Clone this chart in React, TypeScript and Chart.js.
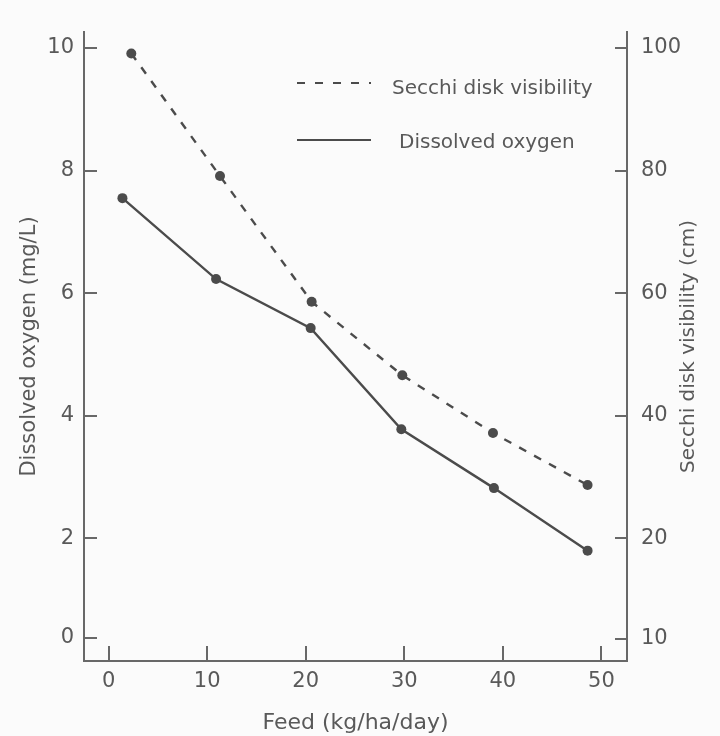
import React, { useEffect, useRef } from "react";
import { Chart, registerables } from "chart.js";

Chart.register(...registerables);

// ---- data ----
const feedSecchi = [2.3, 11.3, 20.6, 29.8, 39.0, 48.6];
const secchiValues = [99.1, 79.1, 58.6, 46.6, 37.2, 28.7];
const feedOxygen = [1.4, 10.9, 20.5, 29.7, 39.1, 48.6];
const oxygenValues = [7.55, 6.23, 5.43, 3.78, 2.82, 1.8];

const xTickValues = [0, 10, 20, 30, 40, 50];
// the bottom tick of both value axes sits on a broken segment in the original
const leftTickValues = [0.38, 2, 4, 6, 8, 10];
const leftTickLabels = ["0", "2", "4", "6", "8", "10"];
const rightTickValues = [3.6, 20, 40, 60, 80, 100];
const rightTickLabels = ["10", "20", "40", "60", "80", "100"];

const seriesNames = ["Secchi disk visibility", "Dissolved oxygen"];
const xTitle = "Feed (kg/ha/day)";
const leftTitle = "Dissolved oxygen (mg/L)";
const rightTitle = "Secchi disk visibility (cm)";

const FONT = "'DejaVu Sans', Verdana, sans-serif";
const TEXT = "#595959";
const AXIS = "#686868";
const LINE = "#4b4b4b";

const bgPlugin = {
  id: "bg",
  beforeDraw(chart: any) {
    const { ctx, width, height } = chart;
    ctx.save();
    ctx.fillStyle = "#fbfbfb";
    ctx.fillRect(0, 0, width, height);
    ctx.restore();
  },
};

const extrasPlugin = {
  id: "extras",
  afterDraw(chart: any) {
    const { ctx, chartArea } = chart;
    const x0 = chartArea.left + 213;
    const rows = [
      { y: chartArea.top + 51, dash: [8, 10], textX: 95, textDy: 6, name: seriesNames[0] },
      { y: chartArea.top + 108, dash: [], textX: 102, textDy: 3, name: seriesNames[1] },
    ];
    ctx.save();
    rows.forEach((r) => {
      ctx.beginPath();
      ctx.setLineDash(r.dash);
      ctx.strokeStyle = LINE;
      ctx.lineWidth = 2;
      ctx.moveTo(x0, r.y);
      ctx.lineTo(x0 + 74, r.y);
      ctx.stroke();
      ctx.setLineDash([]);
      ctx.fillStyle = TEXT;
      ctx.font = `20px ${FONT}`;
      ctx.textBaseline = "middle";
      ctx.textAlign = "left";
      ctx.fillText(r.name, x0 + r.textX, r.y + r.textDy);
    });
    // right axis title, reading bottom-to-top as in the original
    const y2 = chart.scales.y2;
    ctx.translate(y2.right - 31, (chartArea.top + chartArea.bottom) / 2);
    ctx.rotate(-Math.PI / 2);
    ctx.font = `20px ${FONT}`;
    ctx.fillStyle = TEXT;
    ctx.textAlign = "center";
    ctx.textBaseline = "middle";
    ctx.fillText(rightTitle, 0, 0);
    ctx.restore();
  },
};

const noPadV = (s: any) => {
  s.paddingTop = 0;
  s.paddingBottom = 0;
};

export default function App() {
  const ref = useRef<HTMLCanvasElement | null>(null);

  useEffect(() => {
    if (!ref.current) return;
    const chart = new Chart(ref.current, {
      type: "scatter",
      data: {
        datasets: [
          {
            label: seriesNames[0],
            data: feedSecchi.map((x, i) => ({ x, y: secchiValues[i] })),
            yAxisID: "y2",
            showLine: true,
            borderColor: LINE,
            backgroundColor: LINE,
            borderWidth: 2.4,
            borderDash: [8, 9],
            pointRadius: 5,
            pointBorderWidth: 0,
            pointBackgroundColor: LINE,
            tension: 0,
          },
          {
            label: seriesNames[1],
            data: feedOxygen.map((x, i) => ({ x, y: oxygenValues[i] })),
            yAxisID: "y",
            showLine: true,
            borderColor: LINE,
            backgroundColor: LINE,
            borderWidth: 2.4,
            pointRadius: 5,
            pointBorderWidth: 0,
            pointBackgroundColor: LINE,
            tension: 0,
          },
        ],
      },
      options: {
        responsive: false,
        animation: false,
        layout: { padding: { top: 32, left: 0, right: 0, bottom: 0 } },
        plugins: {
          legend: { display: false },
          tooltip: { enabled: false },
        },
        scales: {
          x: {
            type: "linear",
            position: "bottom",
            min: -2.5,
            max: 52.6,
            afterBuildTicks: (s: any) => {
              s.ticks = xTickValues.map((v) => ({ value: v }));
            },
            afterFit: (s: any) => {
              s.height = 75;
              s.paddingLeft = 0;
              s.paddingRight = 0;
            },
            grid: {
              drawOnChartArea: false,
              drawTicks: true,
              tickLength: -15,
              color: AXIS,
              lineWidth: 2,
            },
            border: { display: true, color: AXIS, width: 2 },
            ticks: {
              color: TEXT,
              font: { family: FONT, size: 21 },
              padding: 23,
              maxRotation: 0,
              autoSkip: false,
            },
            title: {
              display: true,
              text: xTitle,
              color: TEXT,
              font: { family: FONT, size: 22 },
              padding: { top: 0, bottom: 0 },
            },
          },
          y: {
            type: "linear",
            position: "left",
            min: 0,
            max: 10.26,
            afterBuildTicks: (s: any) => {
              s.ticks = leftTickValues.map((v) => ({ value: v }));
            },
            afterFit: (s: any) => {
              s.width = 84;
              noPadV(s);
            },
            grid: {
              drawOnChartArea: false,
              drawTicks: true,
              tickLength: -13,
              color: AXIS,
              lineWidth: 2,
            },
            border: { display: true, color: AXIS, width: 2 },
            ticks: {
              color: TEXT,
              font: { family: FONT, size: 21 },
              padding: 23,
              autoSkip: false,
              callback: (_v: any, i: number) => leftTickLabels[i],
            },
            title: {
              display: true,
              text: leftTitle,
              color: TEXT,
              font: { family: FONT, size: 21 },
              padding: { top: 17, bottom: 0 },
            },
          },
          y2: {
            type: "linear",
            position: "right",
            min: 0,
            max: 102.6,
            afterBuildTicks: (s: any) => {
              s.ticks = rightTickValues.map((v) => ({ value: v }));
            },
            afterFit: (s: any) => {
              s.width = 93;
              noPadV(s);
            },
            grid: {
              drawOnChartArea: false,
              drawTicks: true,
              tickLength: -12,
              color: AXIS,
              lineWidth: 2,
            },
            border: { display: true, color: AXIS, width: 2 },
            ticks: {
              color: TEXT,
              font: { family: FONT, size: 21 },
              padding: 26,
              autoSkip: false,
              callback: (_v: any, i: number) => rightTickLabels[i],
            },
            title: { display: false },
          },
        },
      },
      plugins: [bgPlugin, extrasPlugin],
    });
    return () => chart.destroy();
  }, []);

  return (
    <div style={{ position: "absolute", left: 0, top: 0, width: 720, height: 736 }}>
      <canvas ref={ref} width={720} height={736} />
    </div>
  );
}
